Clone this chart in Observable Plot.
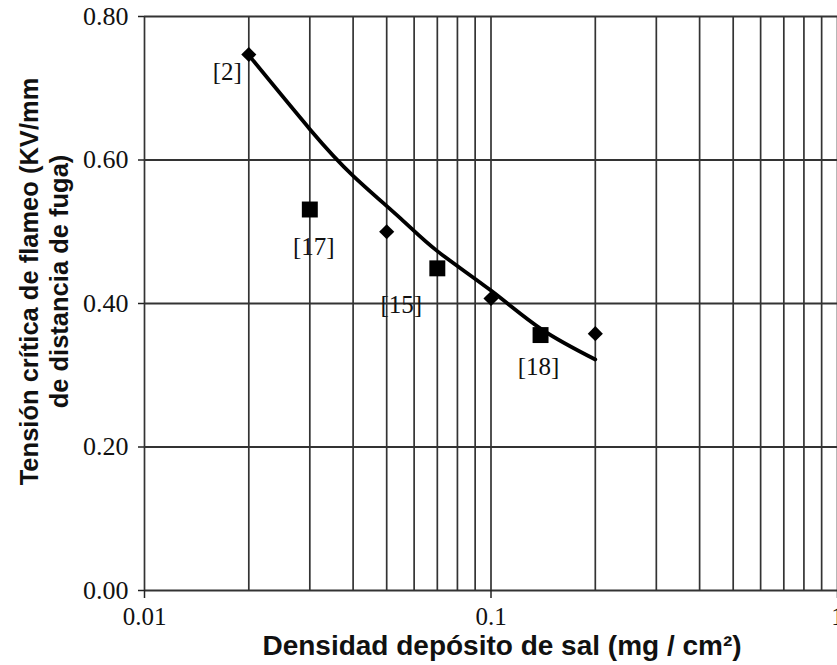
<!DOCTYPE html>
<html>
<head>
<meta charset="utf-8">
<script src="https://cdn.jsdelivr.net/npm/d3@7"></script>
<script src="https://cdn.jsdelivr.net/npm/@observablehq/plot@0.6"></script>
<style>
  html, body { margin: 0; padding: 0; background: #fff; }
  svg { display: block; }
</style>
</head>
<body>
<div id="chart"></div>
<script>
// Data
const diamondX = [0.02, 0.05, 0.1, 0.2];
const diamondY = [0.747, 0.500, 0.407, 0.358];
const squareX = [0.03, 0.07, 0.139];
const squareY = [0.531, 0.449, 0.356];
const curveX = [0.02, 0.03, 0.04, 0.055, 0.07, 0.1, 0.14, 0.2];
const curveY = [0.746, 0.643, 0.578, 0.518, 0.473, 0.418, 0.364, 0.322];
const refLabels = ["[2]", "[17]", "[15]", "[18]"];
const refX = [0.02, 0.03, 0.07, 0.139];
const refY = [0.747, 0.531, 0.449, 0.356];
const gridX = [0.01, 0.02, 0.03, 0.04, 0.05, 0.06, 0.07, 0.08, 0.09, 0.1, 0.2, 0.3, 0.4, 0.5, 0.6, 0.7, 0.8, 0.9, 1];
const gridY = [0, 0.2, 0.4, 0.6, 0.8];
const xTicks = [0.01, 0.1, 1];
const xTickLabels = new Map([[0.01, "0.01"], [0.1, "0.1"], [1, "1"]]);
const yTicks = [0, 0.2, 0.4, 0.6, 0.8];
const yTickLabels = new Map([[0, "0.00"], [0.2, "0.20"], [0.4, "0.40"], [0.6, "0.60"], [0.8, "0.80"]]);
const xTitle = "Densidad depósito de sal (mg / cm²)";
const yTitle = "Tensión crítica de flameo (KV/mm\nde distancia de fuga)";

const diamonds = diamondX.map((x, i) => ({x, y: diamondY[i]}));
const squares = squareX.map((x, i) => ({x, y: squareY[i]}));
const curve = curveX.map((x, i) => ({x, y: curveY[i]}));
const refs = refLabels.map((t, i) => ({t, x: refX[i], y: refY[i]}));

const serif = "'Liberation Serif', 'Times New Roman', serif";
const sans = "'Liberation Sans', Arial, sans-serif";
const gridColor = "#333";

function refText(i, opts) {
  return Plot.text([refs[i]], {x: "x", y: "y", text: "t", fontFamily: serif, fontSize: 25, fill: "#111", ...opts});
}

const chart = Plot.plot({
  width: 837,
  height: 665,
  marginLeft: 144,
  marginRight: 0,
  marginTop: 16,
  marginBottom: 75,
  style: {background: "#fff", overflow: "visible"},
  x: {type: "log", domain: [0.01, 1], label: null},
  y: {domain: [0, 0.8], label: null},
  marks: [
    Plot.ruleX(gridX, {stroke: gridColor, strokeWidth: 1.7}),
    Plot.ruleY(gridY, {stroke: gridColor, strokeWidth: 1.9}),
    Plot.axisX(xTicks, {tickSize: 8, tickPadding: 9, tickFormat: (d) => xTickLabels.get(d) ?? String(d), fontFamily: serif, fontSize: 25, stroke: "#222", strokeWidth: 1.5, fill: "#111"}),
    Plot.axisY(yTicks, {tickSize: 6, tickPadding: 10, tickFormat: (d) => yTickLabels.get(d) ?? d.toFixed(2), fontFamily: serif, fontSize: 26, stroke: "#222", strokeWidth: 1.5, fill: "#111"}),
    Plot.line(curve, {x: "x", y: "y", curve: "natural", stroke: "#000", strokeWidth: 3.8}),
    Plot.dot(diamonds, {x: "x", y: "y", symbol: "diamond2", r: 6.8, fill: "#000", stroke: "none"}),
    Plot.dot(squares, {x: "x", y: "y", symbol: "square", r: 9, fill: "#000", stroke: "none"}),
    refText(0, {dx: -7, dy: 17, textAnchor: "end"}),
    refText(1, {dx: 4, dy: 37}),
    refText(2, {dx: -36, dy: 37}),
    refText(3, {dx: -2, dy: 32}),
    Plot.text([yTitle], {frameAnchor: "left", textAnchor: "middle", lineAnchor: "middle", rotate: -90, dx: -101, dy: -22, lineHeight: 1.15, fontFamily: sans, fontWeight: "bold", fontSize: 25.5, fill: "#111"}),
    Plot.text([xTitle], {frameAnchor: "bottom", textAnchor: "middle", lineAnchor: "middle", dx: 11, dy: 56, fontFamily: sans, fontWeight: "bold", fontSize: 28, fill: "#111"})
  ]
});
document.getElementById("chart").appendChild(chart);
</script>
</body>
</html>
